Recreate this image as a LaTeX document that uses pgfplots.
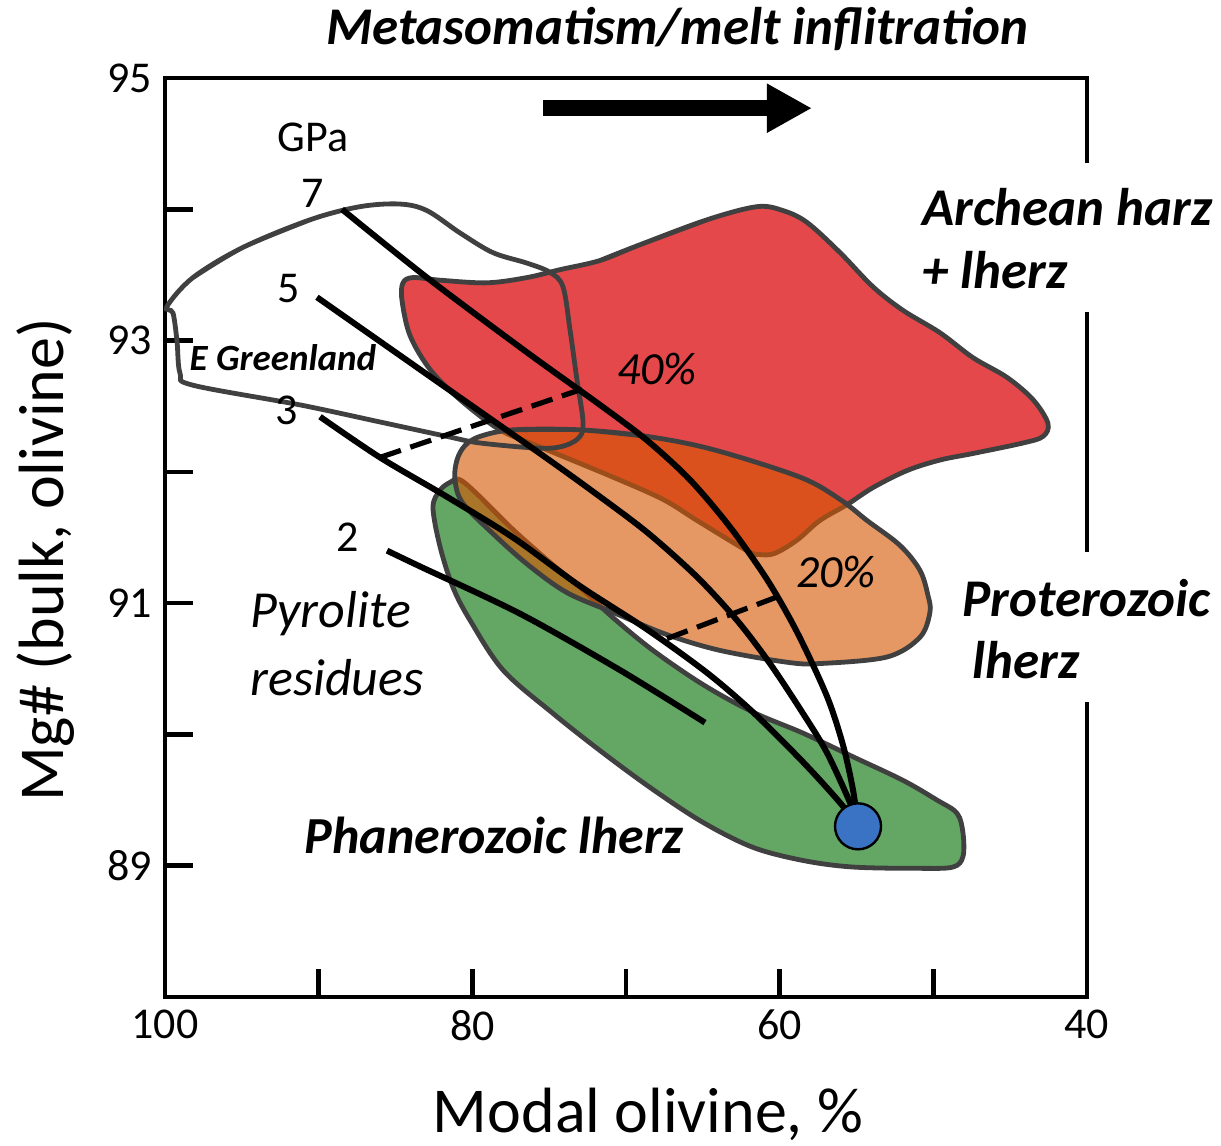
\documentclass[border=0pt]{standalone}
\usepackage{pgfplots}
\pgfplotsset{compat=1.18}
\usepackage{fontspec}
\setmainfont{Carlito}
\usetikzlibrary{arrows.meta}

\definecolor{redA}{RGB}{229,72,74}
\definecolor{oraP}{RGB}{214,87,2}
\definecolor{grnP}{RGB}{100,166,100}
\definecolor{outl}{RGB}{64,64,64}
\definecolor{blu}{RGB}{58,115,195}

\begin{document}
\begin{tikzpicture}
\begin{axis}[
  scale only axis, width=461pt, height=459.5pt,
  x dir=reverse, xmin=40, xmax=100, ymin=88, ymax=95,
  clip=false,
  axis line style={line width=2pt},
  xtick={40,60,80,100}, minor xtick={50,70,90},
  ytick={89,91,93,95}, minor ytick={90,92,94},
  xtick pos=bottom, ytick pos=left, tick align=inside,
  major tick length=14pt, minor tick length=14pt,
  tick style={line width=2.3pt, black},
  minor tick style={line width=2.3pt, black},
  /pgf/number format/assume math mode=true,
  ticklabel style={font=\fontsize{22}{24}\selectfont},
  xticklabel style={yshift=-3pt},
  yticklabel style={xshift=-3pt},
  xlabel={Modal olivine, \%},
  ylabel={Mg\# (bulk, olivine)},
  label style={font=\fontsize{32}{36}\selectfont},
  xlabel style={at={(axis description cs:0.524,-0.128)}, anchor=center},
  ylabel style={at={(axis description cs:-0.130,0.4755)}, anchor=center},
]
% Phanerozoic lherz (green)
\addplot[draw=outl, line width=2.4pt, fill=grnP, smooth, tension=0.55] coordinates {
(79.50,91.81)
(77.35,91.56) (75.14,91.33) (72.99,91.12) (70.85,90.89) (68.24,90.64) (64.99,90.38) (61.74,90.17) (58.48,90.01) (55.23,89.83) (51.97,89.65) (49.76,89.50) (48.46,89.40) (48.07,89.25) (48.07,89.07) (48.72,88.99) (50.87,88.98) (55.23,88.99) (58.48,89.04) (61.74,89.14) (64.99,89.33) (68.24,89.58) (71.50,89.86) (74.75,90.16) (78.00,90.49) (80.15,90.87) (81.26,91.12) (82.10,91.43) (82.56,91.73) (82.10,91.86) (81.45,91.92) (80.80,91.94) (79.50,91.81)
(77.35,91.56) (75.14,91.33)
};
% Archean harz + lherz (red)
\addplot[draw=outl, line width=2.4pt, fill=redA, smooth, tension=0.55] coordinates {
(71.69,93.61)
(69.09,93.73) (64.73,93.92) (61.48,94.02) (59.78,93.99) (58.22,93.90) (56.07,93.67) (53.93,93.41) (51.97,93.23) (49.57,93.06) (47.42,92.87) (45.21,92.72) (43.51,92.55) (42.54,92.37) (42.86,92.27) (44.16,92.22) (47.42,92.14) (49.57,92.09) (51.71,92.01) (53.93,91.88) (55.62,91.75) (57.38,91.63) (58.87,91.48) (60.30,91.38) (61.28,91.37) (62.13,91.40) (65.38,91.63) (67.59,91.79) (70.85,91.96) (75.60,92.19) (78.20,92.32) (80.80,92.55) (82.75,92.78) (84.06,93.04) (84.58,93.31) (84.51,93.44) (83.86,93.48) (82.10,93.46) (79.05,93.44) (76.44,93.48) (74.30,93.54) (71.69,93.61)
(69.09,93.73) (64.73,93.92)
};
% Proterozoic lherz (orange, translucent)
\addplot[draw=outl, line width=2.4pt, fill=oraP, fill opacity=0.61, smooth, tension=0.55] coordinates {
(77.35,92.32)
(72.99,92.32) (68.63,92.27) (64.34,92.17) (58.68,91.96) (56.07,91.79) (54.32,91.63) (52.17,91.44) (50.87,91.25) (50.35,91.06) (50.22,90.93) (50.87,90.74) (53.01,90.59) (57.38,90.54) (59.52,90.55) (63.88,90.64) (67.33,90.76) (70.85,90.93) (73.84,91.08) (76.25,91.28) (78.39,91.50) (80.61,91.76) (81.13,91.94) (81.00,92.09) (80.48,92.20) (79.50,92.27) (77.35,92.32)
(72.99,92.32) (68.63,92.27)
};
% E Greenland (outline only)
\addplot[draw=outl, line width=2.4pt, fill=none, smooth, tension=0.55] coordinates {
(98.18,93.48)
(94.92,93.71) (90.56,93.92) (87.31,94.02) (84.71,94.04) (82.95,93.99) (80.80,93.82) (78.66,93.67) (76.44,93.59) (74.95,93.52) (74.10,93.41) (73.64,93.08) (73.19,92.70) (72.80,92.39) (72.99,92.27) (73.97,92.20) (75.60,92.18) (79.50,92.22) (81.65,92.27) (86.01,92.38) (91.21,92.51) (98.18,92.66) (99.02,92.75) (99.22,93.00) (99.48,93.21) (99.87,93.26) (98.18,93.48)
(94.92,93.71) (90.56,93.92)
};
% melting-degree dashed lines
\addplot[black, line width=2.6pt, dash pattern=on 11pt off 5pt] coordinates {(86.01,92.11) (72.86,92.63)};
\addplot[black, line width=2.6pt, dash pattern=on 11pt off 5pt] coordinates {(67.33,90.73) (60.11,91.05)};
% pyrolite residue trends
\addplot[black, line width=3pt, smooth] coordinates {
(88.48,94.00) (82.95,93.48) (76.44,92.91) (71.69,92.51) (68.63,92.24) (65.84,91.94) (63.23,91.58) (60.82,91.18) (58.87,90.78) (56.92,90.29) (55.88,89.92) (55.23,89.58) (54.90,89.30)};
\addplot[black, line width=3pt, smooth] coordinates {
(90.11,93.33) (82.43,92.70) (75.60,92.14) (72.15,91.85) (68.63,91.54) (65.38,91.20) (62.78,90.87) (60.63,90.54) (58.48,90.16) (56.92,89.86) (55.42,89.48) (54.90,89.30)};
\addplot[black, line width=3pt, smooth] coordinates {
(89.91,92.42) (86.01,92.11) (81.65,91.81) (77.35,91.50) (72.99,91.13) (68.63,90.80) (64.73,90.47) (61.74,90.17) (58.48,89.79) (56.07,89.48) (54.90,89.30)};
\addplot[black, line width=3pt, smooth] coordinates {
(85.55,91.40) (83.41,91.28) (76.90,90.92) (70.39,90.49) (64.86,90.09)};
% starting composition
\addplot[only marks, mark=*, mark size=11.5pt, mark options={fill=blu, draw=black, line width=1.2pt}] coordinates {(54.90,89.30)};

% white gaps in right frame behind labels
\fill[white] (axis cs:40.78,94.35) rectangle (axis cs:39.15,93.22);
\fill[white] (axis cs:40.78,91.39) rectangle (axis cs:39.15,90.25);

% arrow and title
\draw[line width=8pt, -{Triangle[length=22.5pt,width=23pt]}] (axis cs:75.40,94.77) -- (axis cs:57.90,94.77);
\node[font=\fontsize{26.5}{30}\selectfont\bfseries\itshape] at (axis cs:66.68,95.37) {Metasomatism/melt inflitration};

% labels
\node[font=\fontsize{22}{24}\selectfont] at (axis cs:90.37,94.55) {GPa};
\node[font=\fontsize{22}{24}\selectfont] at (axis cs:90.37,94.12) {7};
\node[font=\fontsize{22}{24}\selectfont] at (axis cs:91.93,93.40) {5};
\node[font=\fontsize{22}{24}\selectfont] at (axis cs:92.06,92.47) {3};
\node[font=\fontsize{22}{24}\selectfont] at (axis cs:88.09,91.50) {2};
\node[font=\fontsize{18.5}{20}\selectfont\bfseries\itshape] at (axis cs:92.32,92.87) {E Greenland};
\node[font=\fontsize{23}{25}\selectfont\itshape] at (axis cs:67.98,92.78) {40\%};
\node[font=\fontsize{23}{25}\selectfont\itshape] at (axis cs:56.33,91.24) {20\%};
\node[anchor=west, inner sep=0pt, font=\fontsize{26}{30}\selectfont\itshape] at (axis cs:94.47,90.92) {Pyrolite};
\node[anchor=west, inner sep=0pt, font=\fontsize{26}{30}\selectfont\itshape] at (axis cs:94.47,90.43) {residues};
\node[font=\fontsize{26}{30}\selectfont\bfseries\itshape] at (axis cs:78.59,89.23) {Phanerozoic lherz};
\node[anchor=west, inner sep=0pt, font=\fontsize{26.5}{30}\selectfont\bfseries\itshape] at (axis cs:50.74,94.02) {Archean harz};
\node[anchor=west, inner sep=0pt, font=\fontsize{26.5}{30}\selectfont\bfseries\itshape] at (axis cs:50.74,93.54) {+ lherz};
\node[anchor=west, inner sep=0pt, font=\fontsize{26.5}{30}\selectfont\bfseries\itshape] at (axis cs:48.13,91.04) {Proterozoic};
\node[anchor=west, inner sep=0pt, font=\fontsize{26.5}{30}\selectfont\bfseries\itshape] at (axis cs:47.48,90.57) {lherz};

\coordinate (SW) at (axis description cs:0,0);
\end{axis}
\pgfresetboundingbox
\useasboundingbox ([shift={(-82.5pt,-74.5pt)}]SW) rectangle ([shift={(528pt,498.5pt)}]SW);
\end{tikzpicture}
\end{document}
